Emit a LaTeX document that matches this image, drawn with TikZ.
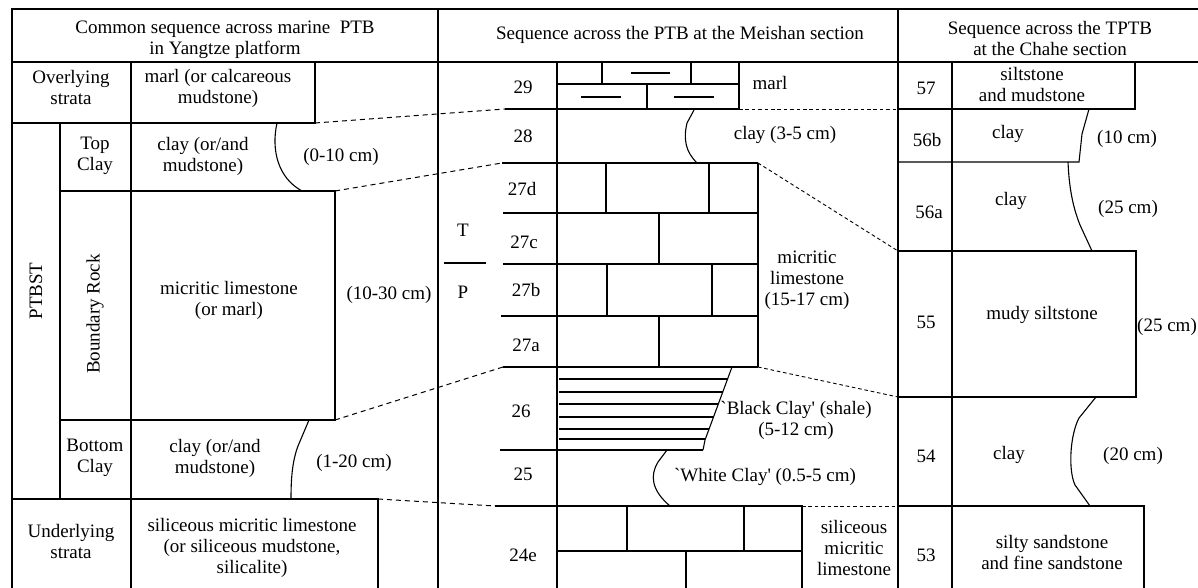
\documentclass[tikz,border=0pt]{standalone}
\usepackage{fontspec}
\setmainfont{Liberation Serif}
\begin{document}
\begin{tikzpicture}[x=0.5pt,y=-0.5pt,line width=0.55pt]
			\tikzstyle{every node}=[inner sep=0pt, align=center, font=\fontsize{9.5}{10.5}\selectfont]
			\tikzstyle{tie}=[dash pattern=on 2.5pt off 2pt, line width=0.5pt]
			\tikzstyle{tiefine}=[dash pattern=on 1.8pt off 1.4pt, line width=0.45pt]
			\useasboundingbox (0,0) rectangle (1198,588);
			
			\draw (12,588) -- (12,9) -- (1198,9);
			\draw (12,62) -- (1198,62);
			\draw (438,9) -- (438,588);
			\draw (898,9) -- (898,588);
			
			\draw (131,62) -- (131,588);
			\draw (12,123) -- (315,123) -- (315,62);
			\draw (60,123) -- (60,499);
			\draw (60,191) -- (335,191) -- (335,420) -- (60,420);
			\draw (12,499) -- (378,499) -- (378,588);
			\draw (277,123) .. controls (271,150) and (278,178) .. (302,191);
			\draw (309,420) -- (298,446) .. controls (292,462) and (291,480) .. (291,499);
			
			\draw (557,62) -- (557,588);
			\draw (557,84) -- (739,84);
			\draw (739,62) -- (739,109);
			\draw (505,109) -- (739,109);
			\draw (602,62) -- (602,84);
			\draw (691,62) -- (691,84);
			\draw (647,84) -- (647,109);
			\draw (631,73) -- (670,73);
			\draw (581,97) -- (621,97);
			\draw (674,97) -- (714,97);
			\draw (694,110) -- (687,123) .. controls (683,140) and (686,152) .. (697,163);
			
			\foreach \y/\xa in {163/502,213/503,264/503,316/501,367/503}
				\draw (\xa,\y) -- (758,\y);
			\draw (758,163) -- (758,367);
			\draw (606,163) -- (606,213);
			\draw (709,163) -- (709,213);
			\draw (659,213) -- (659,264);
			\draw (607,264) -- (607,316);
			\draw (712,264) -- (712,316);
			\draw (659,316) -- (659,367);
			
			\draw (732,367) -- (705,440) -- (703,450);
			\draw (500,450) -- (703,450);
			\foreach \y/\xb in {379/727.6,392/722.8,404/718.3,417/713.5,429/709,439/705.4}
				\draw (559,\y) -- (\xb,\y);
			\draw (667,450) -- (658,462) .. controls (650,475) and (651,490) .. (670,506);
			
			\draw (495,506) -- (802,506) -- (802,588);
			\draw (557,551) -- (802,551);
			\draw (627,506) -- (627,551);
			\draw (744,506) -- (744,551);
			\draw (686,551) -- (686,588);
			
			\draw (952,62) -- (952,588);
			\draw (898,109) -- (1135,109) -- (1135,62);
			\draw (1089,109) -- (1082,134) -- (1079,162) -- (898,162);
			\draw (1068,162) .. controls (1069,185) and (1072,205) .. (1080,225) -- (1092,251);
			\draw (898,251) -- (1136,251) -- (1136,397) -- (898,397);
			\draw (1096,397) -- (1079,418) .. controls (1070,435) and (1068,470) .. (1075,485) -- (1090,506);
			\draw (898,506) -- (1144,506) -- (1144,588);
			
			\draw[tie] (315,123) -- (505,109);
			\draw[tie] (335,191) -- (502,163);
			\draw[tie] (335,420) -- (503,367);
			\draw[tie] (378,499) -- (495,506);
			\draw[tiefine] (739,109) -- (898,109);
			\draw[tiefine] (758,163) -- (898,251);
			\draw[tiefine] (758,367) -- (898,397);
			\draw[tiefine] (802,506) -- (898,506);
			
			\draw (444,263) -- (486,263);
			
			\node (hdcommon) at (225,40) {Common sequence across marine\ \ PTB\\in Yangtze platform};
			\node (hdmeishan) at (680,35) {Sequence across the PTB at the Meishan section};
			\node (hdchahe) at (1050,39) {Sequence across the TPTB\\at the Chahe section};
			
			\node (over) at (71,88) {Overlying\\strata};
			\node (overrock) at (218,88) {marl (or calcareous\\mudstone)};
			\node (topclay) at (95,156) {Top\\Clay};
			\node (toprock) at (203,156) {clay (or/and\\mudstone)};
			\node (topthick) at (341,157) {(0-10 cm)};
			\node[rotate=90] (ptbst) at (36,291) {PTBST};
			\node[rotate=90] (bdrock) at (95,314) {Boundary Rock};
			\node (bdlith) at (229,300) {micritic limestone\\(or marl)};
			\node (bdthick) at (389,295) {(10-30 cm)};
			\node (botclay) at (95,458) {Bottom\\Clay};
			\node (botrock) at (215,458) {clay (or/and\\mudstone)};
			\node (botthick) at (354,463) {(1-20 cm)};
			\node (under) at (71,541) {Underlying\\strata};
			\node (underrock) at (252,548) {siliceous micritic limestone\\(or siliceous mudstone,\\silicalite)};
			
			\node (b29) at (523,87) {29};
			\node (l29) at (770,83) {marl};
			\node (b28) at (523,136) {28};
			\node (l28) at (785,135) {clay (3-5 cm)};
			\node (b27d) at (522,189) {27d};
			\node (b27c) at (524,242) {27c};
			\node (b27b) at (526,290) {27b};
			\node (b27a) at (526,345) {27a};
			\node (tri) at (463,230) {T};
			\node (perm) at (463,292) {P};
			\node (l27) at (807,280) {micritic\\limestone\\(15-17 cm)};
			\node (b26) at (521,411) {26};
			\node (l26) at (796,420) {\textasciigrave Black Clay\textquotesingle{} (shale)\\(5-12 cm)};
			\node (b25) at (523,474) {25};
			\node (l25) at (765,477) {\textasciigrave White Clay\textquotesingle{} (0.5-5 cm)};
			\node (b24e) at (523,555) {24e};
			\node (l24e) at (854,548) {siliceous\\micritic\\limestone};
			
			\node (b57) at (926,88) {57};
			\node (l57) at (1032,85) {siltstone\\and mudstone};
			\node (b56b) at (927,140) {56b};
			\node (l56b) at (1008,134) {clay};
			\node (t56b) at (1127,139) {(10 cm)};
			\node (b56a) at (929,212) {56a};
			\node (l56a) at (1011,201) {clay};
			\node (t56a) at (1128,209) {(25 cm)};
			\node (b55) at (926,322) {55};
			\node (l55) at (1042,315) {mudy siltstone};
			\node (t55) at (1167,327) {(25 cm)};
			\node (b54) at (926,456) {54};
			\node (l54) at (1009,455) {clay};
			\node (t54) at (1133,456) {(20 cm)};
			\node (b53) at (926,555) {53};
			\node (l53) at (1052,552) {silty sandstone\\and fine sandstone};
		\end{tikzpicture}
\end{document}
